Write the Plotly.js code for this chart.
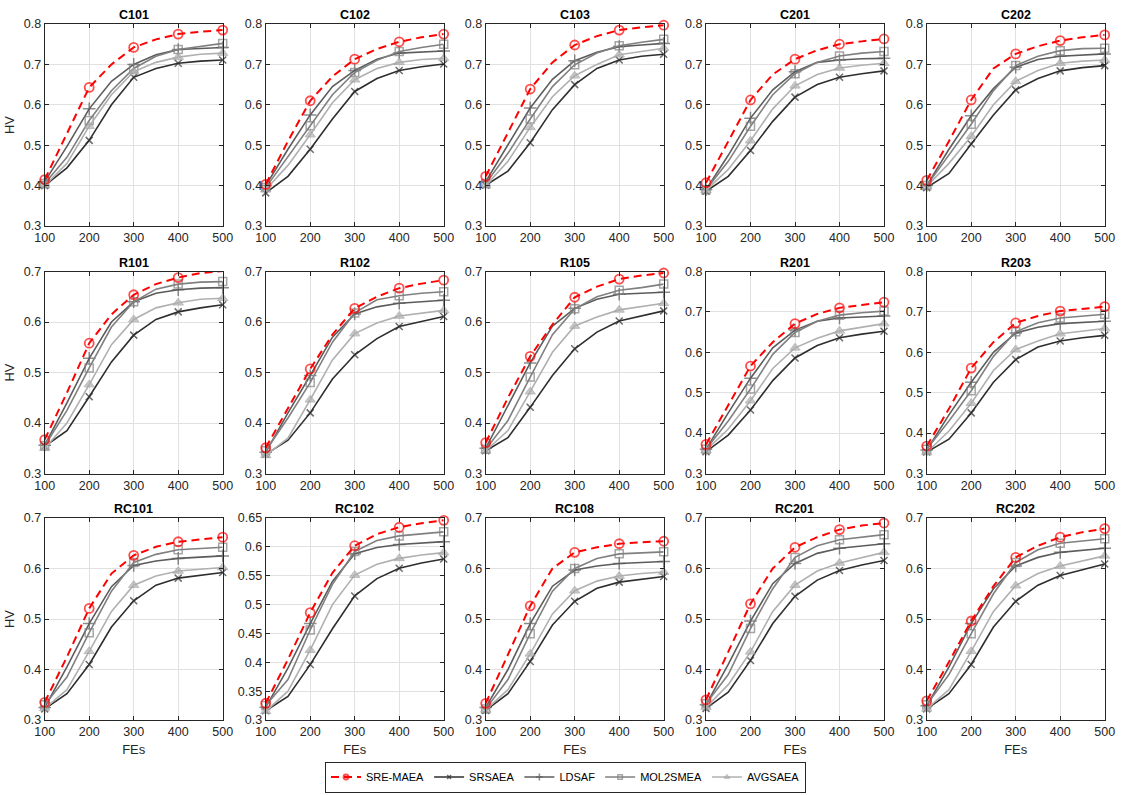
<!DOCTYPE html>
<html>
<head>
<meta charset="utf-8">
<script src="https://cdn.plot.ly/plotly-3.0.1.min.js"></script>
<style>
  html, body { margin: 0; padding: 0; background: #fff; }
  #chart { width: 1122px; height: 795px; }
</style>
</head>
<body>
<div id="chart"></div>
<script>
// Function evaluations at which HV was recorded
const FES = [100, 150, 200, 250, 300, 350, 400, 450, 500];

const ALGORITHMS = ['SRE-MAEA', 'SRSAEA', 'LDSAF', 'MOL2SMEA', 'AVGSAEA'];
const PANELS = ['C101', 'C102', 'C103', 'C201', 'C202',
                'R101', 'R102', 'R105', 'R201', 'R203',
                'RC101', 'RC102', 'RC108', 'RC201', 'RC202'];

// HV per instance; rows follow ALGORITHMS order
const C101 = [
  [0.415, 0.530, 0.643, 0.700, 0.742, 0.762, 0.775, 0.781, 0.785],
  [0.400, 0.444, 0.512, 0.600, 0.668, 0.690, 0.703, 0.708, 0.711],
  [0.410, 0.497, 0.590, 0.658, 0.700, 0.724, 0.737, 0.740, 0.742],
  [0.405, 0.470, 0.561, 0.635, 0.690, 0.720, 0.737, 0.745, 0.752],
  [0.400, 0.455, 0.547, 0.625, 0.682, 0.705, 0.718, 0.725, 0.728]
];
const C102 = [
  [0.403, 0.510, 0.610, 0.670, 0.713, 0.738, 0.756, 0.767, 0.775],
  [0.382, 0.423, 0.490, 0.565, 0.633, 0.665, 0.685, 0.694, 0.701],
  [0.400, 0.490, 0.575, 0.645, 0.685, 0.713, 0.728, 0.731, 0.733],
  [0.395, 0.470, 0.548, 0.625, 0.680, 0.710, 0.732, 0.742, 0.750],
  [0.390, 0.450, 0.526, 0.605, 0.662, 0.690, 0.705, 0.712, 0.715]
];
const C103 = [
  [0.423, 0.530, 0.639, 0.705, 0.748, 0.770, 0.785, 0.792, 0.797],
  [0.401, 0.436, 0.506, 0.588, 0.650, 0.690, 0.711, 0.720, 0.725],
  [0.410, 0.500, 0.592, 0.663, 0.709, 0.730, 0.744, 0.748, 0.752],
  [0.405, 0.480, 0.565, 0.645, 0.699, 0.728, 0.746, 0.755, 0.762],
  [0.400, 0.460, 0.544, 0.620, 0.672, 0.700, 0.724, 0.732, 0.740]
];
const C201 = [
  [0.407, 0.510, 0.612, 0.675, 0.713, 0.735, 0.750, 0.757, 0.763],
  [0.386, 0.423, 0.487, 0.559, 0.619, 0.650, 0.668, 0.677, 0.684],
  [0.390, 0.475, 0.567, 0.637, 0.682, 0.705, 0.711, 0.714, 0.715],
  [0.390, 0.460, 0.547, 0.625, 0.677, 0.705, 0.721, 0.728, 0.732],
  [0.388, 0.440, 0.511, 0.590, 0.647, 0.675, 0.691, 0.698, 0.703]
];
const C202 = [
  [0.413, 0.510, 0.612, 0.690, 0.726, 0.745, 0.759, 0.767, 0.773],
  [0.395, 0.430, 0.503, 0.575, 0.637, 0.665, 0.684, 0.692, 0.697],
  [0.400, 0.490, 0.573, 0.640, 0.693, 0.712, 0.720, 0.723, 0.726],
  [0.400, 0.475, 0.552, 0.635, 0.697, 0.720, 0.734, 0.739, 0.740],
  [0.398, 0.455, 0.522, 0.600, 0.658, 0.685, 0.703, 0.708, 0.711]
];
const R101 = [
  [0.367, 0.460, 0.558, 0.615, 0.654, 0.675, 0.688, 0.697, 0.701],
  [0.354, 0.385, 0.452, 0.521, 0.574, 0.605, 0.620, 0.628, 0.634],
  [0.356, 0.440, 0.528, 0.600, 0.640, 0.657, 0.664, 0.667, 0.668],
  [0.355, 0.425, 0.509, 0.590, 0.640, 0.665, 0.675, 0.679, 0.680],
  [0.350, 0.400, 0.476, 0.555, 0.605, 0.628, 0.638, 0.645, 0.647]
];
const R102 = [
  [0.351, 0.430, 0.507, 0.575, 0.627, 0.650, 0.667, 0.676, 0.683],
  [0.338, 0.366, 0.420, 0.487, 0.535, 0.567, 0.591, 0.601, 0.611],
  [0.342, 0.420, 0.494, 0.570, 0.616, 0.630, 0.637, 0.640, 0.643],
  [0.345, 0.410, 0.480, 0.560, 0.618, 0.644, 0.652, 0.657, 0.660],
  [0.336, 0.370, 0.446, 0.525, 0.577, 0.598, 0.612, 0.618, 0.623]
];
const R105 = [
  [0.361, 0.450, 0.532, 0.595, 0.649, 0.670, 0.685, 0.692, 0.697],
  [0.345, 0.371, 0.431, 0.494, 0.547, 0.580, 0.602, 0.612, 0.622],
  [0.350, 0.435, 0.519, 0.592, 0.627, 0.645, 0.655, 0.657, 0.659],
  [0.348, 0.405, 0.491, 0.575, 0.626, 0.650, 0.663, 0.668, 0.675],
  [0.345, 0.385, 0.462, 0.540, 0.592, 0.610, 0.624, 0.630, 0.637]
];
const R201 = [
  [0.372, 0.470, 0.566, 0.625, 0.671, 0.695, 0.710, 0.717, 0.724],
  [0.354, 0.395, 0.457, 0.530, 0.586, 0.617, 0.636, 0.645, 0.652],
  [0.360, 0.450, 0.536, 0.611, 0.655, 0.677, 0.685, 0.687, 0.690],
  [0.360, 0.430, 0.509, 0.595, 0.649, 0.677, 0.692, 0.698, 0.702],
  [0.357, 0.410, 0.480, 0.560, 0.611, 0.635, 0.653, 0.662, 0.671]
];
const R203 = [
  [0.368, 0.460, 0.561, 0.625, 0.673, 0.690, 0.702, 0.708, 0.713],
  [0.353, 0.385, 0.450, 0.526, 0.582, 0.613, 0.628, 0.636, 0.642],
  [0.358, 0.445, 0.526, 0.600, 0.648, 0.662, 0.671, 0.674, 0.677],
  [0.360, 0.430, 0.505, 0.590, 0.651, 0.673, 0.685, 0.690, 0.694],
  [0.352, 0.405, 0.474, 0.555, 0.607, 0.628, 0.646, 0.653, 0.659]
];
const RC101 = [
  [0.335, 0.425, 0.521, 0.590, 0.626, 0.643, 0.653, 0.658, 0.662],
  [0.322, 0.352, 0.410, 0.484, 0.536, 0.567, 0.581, 0.587, 0.592],
  [0.325, 0.405, 0.491, 0.564, 0.606, 0.615, 0.620, 0.622, 0.625],
  [0.330, 0.385, 0.473, 0.555, 0.612, 0.628, 0.637, 0.640, 0.642],
  [0.323, 0.360, 0.436, 0.515, 0.567, 0.585, 0.595, 0.599, 0.602]
];
const RC102 = [
  [0.329, 0.405, 0.486, 0.555, 0.602, 0.622, 0.634, 0.641, 0.646],
  [0.316, 0.341, 0.396, 0.458, 0.515, 0.545, 0.563, 0.572, 0.579],
  [0.322, 0.390, 0.467, 0.540, 0.588, 0.599, 0.604, 0.607, 0.609],
  [0.325, 0.370, 0.456, 0.535, 0.592, 0.611, 0.619, 0.623, 0.626],
  [0.315, 0.350, 0.421, 0.500, 0.551, 0.570, 0.580, 0.586, 0.590]
];
const RC108 = [
  [0.333, 0.430, 0.526, 0.600, 0.632, 0.642, 0.649, 0.652, 0.654],
  [0.319, 0.352, 0.416, 0.488, 0.535, 0.561, 0.573, 0.579, 0.584],
  [0.325, 0.400, 0.491, 0.565, 0.597, 0.605, 0.610, 0.612, 0.614],
  [0.322, 0.380, 0.471, 0.555, 0.600, 0.620, 0.629, 0.631, 0.633],
  [0.320, 0.360, 0.431, 0.510, 0.556, 0.575, 0.585, 0.590, 0.593]
];
const RC201 = [
  [0.340, 0.435, 0.530, 0.600, 0.642, 0.662, 0.677, 0.685, 0.690],
  [0.323, 0.355, 0.418, 0.491, 0.545, 0.577, 0.596, 0.607, 0.616],
  [0.330, 0.410, 0.496, 0.570, 0.610, 0.630, 0.640, 0.645, 0.649],
  [0.332, 0.390, 0.481, 0.560, 0.622, 0.645, 0.657, 0.662, 0.667],
  [0.325, 0.370, 0.435, 0.515, 0.567, 0.595, 0.611, 0.622, 0.632]
];
const RC202 = [
  [0.338, 0.415, 0.496, 0.565, 0.622, 0.645, 0.662, 0.672, 0.679],
  [0.322, 0.352, 0.410, 0.484, 0.535, 0.567, 0.586, 0.598, 0.609],
  [0.328, 0.405, 0.491, 0.560, 0.605, 0.622, 0.632, 0.636, 0.640],
  [0.330, 0.390, 0.471, 0.550, 0.612, 0.637, 0.650, 0.655, 0.659],
  [0.322, 0.360, 0.436, 0.515, 0.566, 0.590, 0.605, 0.615, 0.625]
];

const DATA = { C101, C102, C103, C201, C202, R101, R102, R105, R201, R203,
               RC101, RC102, RC108, RC201, RC202 };

// Axis tick ranges per instance
const Y_RANGE = {
  C101: [0.3, 0.8], C102: [0.3, 0.8], C103: [0.3, 0.8], C201: [0.3, 0.8], C202: [0.3, 0.8],
  R101: [0.3, 0.7], R102: [0.3, 0.7], R105: [0.3, 0.7], R201: [0.3, 0.8], R203: [0.3, 0.8],
  RC101: [0.3, 0.7], RC102: [0.3, 0.65], RC108: [0.3, 0.7], RC201: [0.3, 0.7], RC202: [0.3, 0.7]
};
const Y_DTICK = { RC102: 0.05 };

// Series styling
const STYLE = [
  { color: '#ff0000', dash: '8px,5px', width: 2, symbol: 'circle-open', size: 9, mline: '#ff0000', mlw: 1.8 },
  { color: '#2e2e2e', dash: 'solid', width: 1.6, symbol: 'x-thin', size: 7, mline: '#2e2e2e', mlw: 1.5 },
  { color: '#5c5c5c', dash: 'solid', width: 1.6, symbol: 'cross-thin', size: 9, mline: '#5c5c5c', mlw: 1.5 },
  { color: '#808080', dash: 'solid', width: 1.6, symbol: 'square-open', size: 8, mline: '#808080', mlw: 1.5 },
  { color: '#b0b0b0', dash: 'solid', width: 1.6, symbol: 'triangle-up', size: 9, mline: '#a0a0a0', mlw: 1 }
];

const W = 1122, H = 795;
const COL_X = [44.7, 265.7, 485.7, 706, 926.7];
const COL_W = 178;
const ROW_Y = [24, 271.5, 518];
const ROW_H = 202;

const FONT = 'Liberation Sans, Arial, Helvetica, sans-serif';
const INK = '#262626';

const traces = [];
const layout = {
  width: W, height: H,
  margin: { l: 0, r: 0, t: 0, b: 0 },
  paper_bgcolor: '#ffffff',
  plot_bgcolor: '#ffffff',
  font: { family: FONT, size: 12, color: INK },
  showlegend: true,
  legend: {
    orientation: 'h',
    x: 0.504, xanchor: 'center',
    y: 1 - 777 / H, yanchor: 'middle',
    bgcolor: '#ffffff',
    bordercolor: INK, borderwidth: 1,
    font: { family: FONT, size: 11, color: '#000000' },
    itemwidth: 30,
    tracegroupgap: 0
  },
  annotations: []
};

PANELS.forEach((name, i) => {
  const row = Math.floor(i / 5), col = i % 5;
  const n = i === 0 ? '' : String(i + 1);
  const xd = [COL_X[col] / W, (COL_X[col] + COL_W) / W];
  const yd = [1 - (ROW_Y[row] + ROW_H) / H, 1 - ROW_Y[row] / H];

  const axCommon = {
    showline: true, linecolor: INK, linewidth: 1, mirror: 'ticks',
    ticks: 'inside', ticklen: 4, tickwidth: 1, tickcolor: INK,
    showgrid: true, gridcolor: '#e1e1e1', gridwidth: 1,
    zeroline: false, fixedrange: true,
    tickfont: { family: FONT, size: 12.5, color: INK }
  };

  layout['xaxis' + n] = Object.assign({}, axCommon, {
    domain: xd, anchor: 'y' + n,
    range: [100, 500], tick0: 100, dtick: 100,
    title: row === 2 ? { text: 'FEs', font: { family: FONT, size: 13, color: INK }, standoff: 6 } : { text: '' }
  });
  layout['yaxis' + n] = Object.assign({}, axCommon, {
    domain: yd, anchor: 'x' + n,
    range: Y_RANGE[name], tick0: 0.3, dtick: Y_DTICK[name] || 0.1,
    title: col === 0 ? { text: 'HV', font: { family: FONT, size: 13, color: INK }, standoff: 6 } : { text: '' }
  });

  layout.annotations.push({
    text: '<b>' + name + '</b>',
    xref: 'paper', yref: 'paper',
    x: (xd[0] + xd[1]) / 2, y: yd[1],
    xanchor: 'center', yanchor: 'bottom', yshift: 0,
    showarrow: false,
    font: { family: FONT, size: 12.5, color: '#000000' }
  });

  // grey series first, red series last so it sits on top
  [1, 2, 3, 4, 0].forEach(k => {
    const s = STYLE[k];
    traces.push({
      type: 'scatter', mode: 'lines+markers',
      x: FES, y: DATA[name][k],
      xaxis: 'x' + n, yaxis: 'y' + n,
      name: ALGORITHMS[k],
      legendrank: k + 1,
      showlegend: i === 0,
      cliponaxis: false,
      line: { color: s.color, width: s.width, dash: s.dash },
      marker: {
        symbol: s.symbol,
        size: FES.map(v => (v % 100 === 0 ? s.size : 0)),
        color: s.color,
        line: { color: s.mline, width: s.mlw }
      },
      hoverinfo: 'skip'
    });
  });
});

Plotly.newPlot('chart', traces, layout, { staticPlot: true, displayModeBar: false });
</script>
</body>
</html>
